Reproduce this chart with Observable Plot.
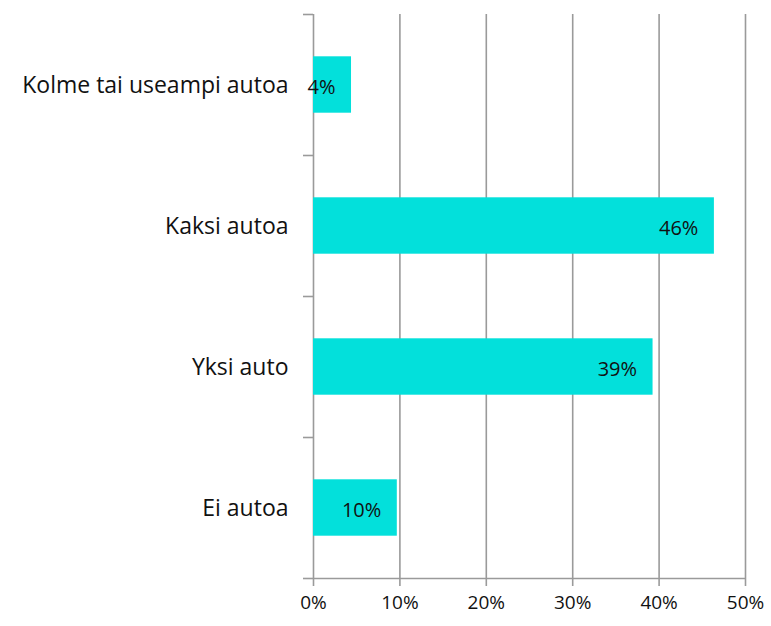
<!DOCTYPE html>
<html>
<head>
<meta charset="utf-8">
<script src="https://cdn.jsdelivr.net/npm/d3@7"></script>
<script src="https://cdn.jsdelivr.net/npm/@observablehq/plot@0.6"></script>
<style>
  html, body { margin: 0; padding: 0; background: #fff; }
  svg { display: block; }
</style>
</head>
<body>
<div id="chart"></div>
<script>
// Categories listed from bottom to top
const categories = ["Ei autoa", "Yksi auto", "Kaksi autoa", "Kolme tai useampi autoa"];
const values = [9.7, 39.3, 46.4, 4.4];
const valueLabels = ["10%", "39%", "46%", "4%"];
const xTicks = [0, 10, 20, 30, 40, 50];

const rows = categories.map((c, i) => ({cat: c, idx: i, value: values[i], label: valueLabels[i]}));
const boundaries = d3.range(categories.length + 1);

const gray = "#9a9a9a";
const font = "'Open Sans', Lato, sans-serif";

const chart = Plot.plot({
  width: 771,
  height: 626,
  marginLeft: 313,
  marginRight: 26,
  marginTop: 14,
  marginBottom: 48,
  style: {fontFamily: font, background: "#fff"},
  x: {domain: [0, 50], label: null},
  y: {type: "linear", domain: [0, categories.length], label: null},
  marks: [
    Plot.ruleX(xTicks, {x: d => d, y1: 0, y2: categories.length, stroke: gray, strokeWidth: 1.6}),
    Plot.ruleY([0], {x1: 0, x2: 50, stroke: gray, strokeWidth: 1.6}),
    Plot.rect(rows, {x1: 0, x2: "value", y1: d => d.idx + 0.3, y2: d => d.idx + 0.7, fill: "#03E0DB"}),
    Plot.text(rows, {x: "value", y: d => d.idx + 0.5, text: "label", textAnchor: "end", dx: -16, dy: 3, fontSize: 20, fill: "#111"}),
    Plot.text(rows, {x: 0, y: d => d.idx + 0.5, text: "cat", textAnchor: "end", dx: -25, dy: 1, fontSize: 23, fill: "#111"}),
    Plot.axisY({ticks: boundaries, tickFormat: () => "", tickSize: 10, stroke: gray, strokeWidth: 1.6, label: null}),
    Plot.axisX({ticks: xTicks, tickFormat: d => d + "%", tickSize: 8, tickPadding: 9, fontSize: 19, stroke: gray, strokeWidth: 1.6, color: "#111", label: null})
  ]
});
chart.querySelectorAll('[aria-label="x-axis tick label"] text').forEach(t => t.setAttribute("fill", "#111"));
document.getElementById("chart").appendChild(chart);
</script>
</body>
</html>
